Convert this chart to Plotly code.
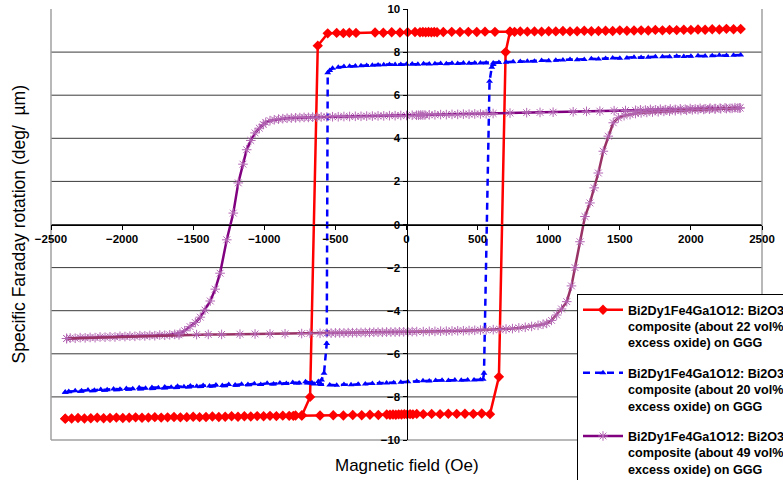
import plotly.graph_objects as go

# ---------------- data ----------------
x_ticks = [-2500, -2000, -1500, -1000, -500, 0, 500, 1000, 1500, 2000, 2500]
y_ticks = [-10, -8, -6, -4, -2, 0, 2, 4, 6, 8, 10]
grid_vals = [-8, -6, -4, -2, 0, 2, 4, 6, 8]

names = [
    "Bi2Dy1Fe4Ga1O12: Bi2O3<br>composite (about 22 vol%<br>excess oxide) on GGG",
    "Bi2Dy1Fe4Ga1O12: Bi2O3<br>composite (about 20 vol%<br>excess oxide) on GGG",
    "Bi2Dy1Fe4Ga1O12: Bi2O3<br>composite (about 49 vol%<br>excess oxide) on GGG",
]

# Red (22 vol%) - descending field
red_up_x = [2350, 2300, 2250, 2200, 2150, 2100, 2050, 2000, 1950, 1900, 1850, 1800, 1750, 1700, 1650, 1600,
            1550, 1500, 1450, 1400, 1350, 1300, 1250, 1200, 1150, 1100, 1050, 1000, 950, 900, 850, 800, 760, 728]
red_up_y = [9.07, 9.06, 9.08, 9.05, 9.06, 9.04, 9.05, 9.03, 9.04, 9.02, 9.03, 9.01, 9.03, 9.00, 9.01, 9.00,
            8.99, 9.01, 8.98, 8.99, 8.98, 8.97, 8.99, 8.97, 8.96, 8.98, 8.96, 8.97, 8.95, 8.96, 8.95, 8.96, 8.94, 8.95]
red_mid_x = [622, 552, 494, 435, 376, 318, 259, 215, 195, 175, 155, 135, 115, 95, 60, 8, -46, -104, -163, -221,
             -355, -402, -444, -491, -554]
red_mid_y = [8.94, 8.95, 8.93, 8.94, 8.93, 8.94, 8.93, 8.92, 8.93, 8.92, 8.93, 8.92, 8.93, 8.92, 8.93, 8.92,
             8.91, 8.92, 8.90, 8.91, 8.89, 8.90, 8.88, 8.89, 8.87]
red_sw_x = [-624, -678, -735]
red_sw_y = [8.3, -8.0, -8.85]
red_low_x = [-780, -825, -870, -915, -960, -1005, -1050, -1095, -1140, -1185, -1230, -1275, -1320, -1365, -1410,
             -1455, -1500, -1545, -1590, -1635, -1680, -1725, -1770, -1815, -1860, -1905, -1950, -1995, -2040,
             -2085, -2130, -2175, -2220, -2265, -2310, -2355, -2400]
red_low_y = [-8.86, -8.88, -8.87, -8.89, -8.88, -8.90, -8.89, -8.91, -8.90, -8.92, -8.90, -8.92, -8.93, -8.91,
             -8.93, -8.94, -8.92, -8.94, -8.95, -8.93, -8.95, -8.96, -8.94, -8.96, -8.97, -8.95, -8.97, -8.98,
             -8.96, -8.98, -8.99, -8.97, -8.99, -9.00, -8.98, -9.00, -9.01]
# Red - ascending field
red_asc_x = [-2400, -796, -737, -608, -515, -444, -378, -315, -257, -198, -139, -116, -95, -75, -55, -35, -15, 5,
             25, 45, 72, 118, 177, 236, 294, 353, 411, 470, 529, 587, 650, 697, 728]
red_asc_y = [-9.01, -8.88, -8.87, -8.86, -8.85, -8.86, -8.84, -8.85, -8.83, -8.84, -8.82, -8.83, -8.82, -8.83,
             -8.81, -8.82, -8.80, -8.81, -8.80, -8.81, -8.79, -8.80, -8.79, -8.80, -8.78, -8.79, -8.78, -8.79,
             -8.77, -8.80, -7.07, 8.0, 8.95]

# Blue (20 vol%) - descending field
blue_up_x = [2350, 2300, 2250, 2200, 2150, 2100, 2050, 2000, 1950, 1900, 1850, 1800, 1750, 1700, 1650, 1600,
             1550, 1500, 1450, 1400, 1350, 1300, 1250, 1200, 1150, 1100, 1050, 1000, 950, 900, 850, 800, 750,
             700, 650, 610]
blue_up_y = [7.86, 7.85, 7.84, 7.85, 7.83, 7.82, 7.83, 7.81, 7.80, 7.81, 7.79, 7.78, 7.79, 7.76, 7.75, 7.76,
             7.73, 7.72, 7.73, 7.70, 7.68, 7.69, 7.66, 7.65, 7.66, 7.63, 7.62, 7.60, 7.61, 7.58, 7.57, 7.56,
             7.55, 7.53, 7.52, 7.50]
blue_mid_x = [560, 520, 480, 440, 400, 360, 320, 280, 240, 200, 160, 120, 80, 40, 0, -40, -80, -120, -160,
              -200, -240, -280, -320, -360, -400, -440, -480, -520, -540]
blue_mid_y = [7.50, 7.49, 7.50, 7.48, 7.49, 7.47, 7.48, 7.46, 7.47, 7.46, 7.45, 7.46, 7.44, 7.45, 7.44, 7.43,
              7.42, 7.43, 7.41, 7.40, 7.39, 7.38, 7.37, 7.36, 7.34, 7.33, 7.30, 7.25, 7.15]
blue_sw_x = [-554, -561, -580, -597]
blue_sw_y = [7.04, -5.52, -6.9, -7.22]
blue_low_x = [-620, -665, -710, -755, -800, -845, -890, -935, -980, -1025, -1070, -1115, -1160, -1205, -1250,
              -1295, -1340, -1385, -1430, -1475, -1520, -1565, -1610, -1655, -1700, -1745, -1790, -1835, -1880,
              -1925, -1970, -2015, -2060, -2105, -2150, -2195, -2240, -2285, -2330, -2375, -2400]
blue_low_y = [-7.28, -7.34, -7.30, -7.36, -7.33, -7.38, -7.35, -7.40, -7.37, -7.42, -7.39, -7.43, -7.41, -7.45,
              -7.43, -7.47, -7.45, -7.49, -7.47, -7.51, -7.49, -7.53, -7.51, -7.55, -7.54, -7.57, -7.56, -7.60,
              -7.58, -7.62, -7.61, -7.64, -7.63, -7.67, -7.66, -7.69, -7.68, -7.71, -7.72, -7.75, -7.78]
# Blue - ascending field
blue_asc_x = [-2400, -700, -650, -600, -540, -491, -440, -390, -340, -290, -240, -190, -140, -90, -40, 10, 72,
              116, 160, 205, 250, 295, 340, 385, 430, 475, 520, 539, 545, 584, 600, 610]
blue_asc_y = [-7.78, -7.35, -7.40, -7.42, -7.45, -7.46, -7.43, -7.44, -7.41, -7.40, -7.38, -7.37, -7.35, -7.34,
              -7.32, -7.30, -7.27, -7.25, -7.26, -7.24, -7.23, -7.24, -7.22, -7.23, -7.21, -7.22, -7.20, -7.18,
              -6.9, 6.65, 7.3, 7.43]

# Purple (49 vol%) - descending field
pur_up_x = [2345, 2310, 2275, 2240, 2205, 2170, 2135, 2100, 2065, 2030, 1995, 1960, 1925, 1890, 1855, 1820,
            1785, 1750, 1715, 1680, 1645, 1610]
pur_up_y = [5.41, 5.42, 5.39, 5.41, 5.40, 5.38, 5.40, 5.37, 5.39, 5.36, 5.38, 5.35, 5.37, 5.34, 5.36, 5.33,
            5.35, 5.32, 5.34, 5.31, 5.32, 5.30]
pur_sparse_x = [1540, 1460, 1360, 1266, 1172, 1031, 939, 845, 728, 609]
pur_sparse_y = [5.29, 5.28, 5.26, 5.25, 5.23, 5.21, 5.20, 5.19, 5.17, 5.15]
pur_mid_x = [560, 520, 480, 440, 400, 360, 320, 280, 240, 200, 160, 130, 115, 100, 85, 70, 40, 0, -40, -80,
             -120, -160, -200, -240, -280, -320, -360, -400, -440, -480, -520, -560, -600, -631]
pur_mid_y = [5.14, 5.13, 5.13, 5.12, 5.12, 5.11, 5.11, 5.10, 5.10, 5.09, 5.09, 5.08, 5.08, 5.08, 5.07, 5.07,
             5.07, 5.06, 5.06, 5.05, 5.05, 5.04, 5.04, 5.03, 5.03, 5.02, 5.02, 5.01, 5.01, 5.00, 5.00, 4.99,
             4.99, 4.98]
pur_sw_x = [-660, -690, -720, -750, -780, -810, -840, -870, -900, -930, -960, -990, -1007, -1035, -1065, -1095,
            -1124, -1150, -1183, -1218, -1264, -1311, -1345, -1380, -1417, -1450, -1485, -1522, -1560, -1593]
pur_sw_y = [4.98, 4.97, 4.97, 4.96, 4.95, 4.94, 4.93, 4.91, 4.89, 4.86, 4.82, 4.74, 4.64, 4.47, 4.25, 3.90,
            3.47, 2.80, 1.93, 0.53, -0.71, -2.26, -3.00, -3.55, -3.97, -4.30, -4.55, -4.74, -4.93, -5.05]
pur_low_x = [-1630, -1665, -1700, -1735, -1770, -1805, -1840, -1875, -1910, -1945, -1980, -2015, -2050, -2085,
             -2120, -2155, -2190, -2225, -2260, -2295, -2330, -2365, -2390]
pur_low_y = [-5.10, -5.12, -5.14, -5.13, -5.16, -5.15, -5.17, -5.16, -5.19, -5.18, -5.20, -5.19, -5.22, -5.21,
             -5.23, -5.22, -5.25, -5.24, -5.26, -5.25, -5.28, -5.27, -5.29]
# Purple - ascending field
pa_x1 = [-2390, -1600, -1476, -1394, -1300, -1171, -1065, -960, -854, -737, -679, -608]
pa_y1 = [-5.29, -5.12, -5.11, -5.10, -5.10, -5.09, -5.08, -5.08, -5.07, -5.06, -5.05, -5.05]
pa_x2 = [-560, -530, -500, -470, -440, -410, -380, -350, -320, -290, -260, -230, -200, -170, -140, -110, -80,
         -50, -20, 10, 40, 72]
pa_y2 = [-5.04, -5.04, -5.03, -5.03, -5.03, -5.02, -5.02, -5.02, -5.01, -5.01, -5.01, -5.00, -5.00, -5.00,
         -4.99, -4.99, -4.99, -4.98, -4.98, -4.98, -4.97, -4.97]
pa_x3 = [118, 160, 200, 240, 280, 320, 360, 400, 440, 480, 520, 560, 610, 657, 700, 745, 790, 835, 880, 925,
         960, 986, 1020, 1056, 1090, 1127, 1160, 1185, 1220, 1255, 1290, 1320, 1349, 1384, 1419, 1454, 1490,
         1530, 1572]
pa_y3 = [-4.97, -4.96, -4.96, -4.95, -4.95, -4.94, -4.93, -4.93, -4.92, -4.91, -4.90, -4.89, -4.88, -4.87,
         -4.85, -4.83, -4.80, -4.77, -4.73, -4.68, -4.63, -4.59, -4.45, -4.20, -3.92, -3.58, -2.85, -2.00,
         -0.80, 0.37, 1.00, 1.70, 2.39, 3.40, 4.10, 4.72, 4.95, 5.05, 5.10]
pa_x4 = [1610, 1650, 1690, 1730, 1770, 1810, 1850, 1890, 1930, 1970, 2010, 2050, 2090, 2130, 2170, 2210, 2250,
         2290, 2330, 2345]
pa_y4 = [5.15, 5.18, 5.20, 5.22, 5.23, 5.25, 5.26, 5.28, 5.29, 5.30, 5.32, 5.33, 5.34, 5.35, 5.36, 5.37, 5.38,
         5.39, 5.40, 5.41]


def cat(*parts):
    out = []
    for p in parts:
        out.extend(p)
    return out


RED = "#FF0000"
BLUE = "#0000FF"
PURPLE = "#800080"
PLUM = "#993366"
PMARK = "#B366B3"

fig = go.Figure()

red_marker = dict(symbol="diamond", size=8, color=RED)
fig.add_trace(go.Scatter(
    x=cat(red_up_x, red_mid_x, red_sw_x, red_low_x), y=cat(red_up_y, red_mid_y, red_sw_y, red_low_y),
    mode="lines+markers", line=dict(color=RED, width=2.5), marker=red_marker,
    name=names[0], legendgroup="r"))
fig.add_trace(go.Scatter(
    x=red_asc_x, y=red_asc_y, mode="lines+markers", line=dict(color=RED, width=2.5), marker=red_marker,
    name=names[0], legendgroup="r", showlegend=False))

blue_marker = dict(symbol="triangle-up", size=6, color=BLUE)
fig.add_trace(go.Scatter(
    x=cat(blue_up_x, blue_mid_x, blue_sw_x, blue_low_x), y=cat(blue_up_y, blue_mid_y, blue_sw_y, blue_low_y),
    mode="lines+markers", line=dict(color=BLUE, width=2.5, dash="7px,5px"), marker=blue_marker,
    name=names[1], legendgroup="b"))
fig.add_trace(go.Scatter(
    x=blue_asc_x, y=blue_asc_y, mode="lines+markers", line=dict(color=BLUE, width=2.5, dash="7px,5px"),
    marker=blue_marker, name=names[1], legendgroup="b", showlegend=False))

pur_marker = dict(symbol="asterisk-open", size=8, color=PMARK, line=dict(color=PMARK, width=1))
fig.add_trace(go.Scatter(
    x=cat(pur_up_x, pur_sparse_x, pur_mid_x, pur_sw_x, pur_low_x),
    y=cat(pur_up_y, pur_sparse_y, pur_mid_y, pur_sw_y, pur_low_y),
    mode="lines+markers", line=dict(color=PURPLE, width=2.5), marker=pur_marker,
    name=names[2], legendgroup="p"))
fig.add_trace(go.Scatter(
    x=cat(pa_x1, pa_x2, pa_x3, pa_x4), y=cat(pa_y1, pa_y2, pa_y3, pa_y4),
    mode="lines+markers", line=dict(color=PLUM, width=2.5), marker=pur_marker,
    name=names[2], legendgroup="p", showlegend=False))

shapes = []
for g in grid_vals:
    shapes.append(dict(type="line", xref="paper", yref="y", x0=0, x1=1, y0=g, y1=g,
                       line=dict(color="#3a3a3a", width=1), layer="below"))
border = dict(color="#A0A0A0", width=1.5)
shapes.append(dict(type="line", xref="paper", yref="paper", x0=0, x1=0, y0=0, y1=1, line=border, layer="below"))
shapes.append(dict(type="line", xref="paper", yref="paper", x0=1, x1=1, y0=0, y1=1, line=border, layer="below"))
shapes.append(dict(type="line", xref="paper", yref="paper", x0=0, x1=1, y0=0, y1=0, line=border, layer="below"))

tickfont = dict(family="Arial, Liberation Sans, sans-serif", size=11.5, color="black", weight="bold")

fig.update_layout(
    width=783, height=480,
    margin=dict(l=51, r=21, t=9, b=40, autoexpand=False),
    paper_bgcolor="white", plot_bgcolor="white",
    font=dict(family="Arial, Liberation Sans, sans-serif", color="black"),
    showlegend=True,
    legend=dict(x=0.7398, y=0.3387, xanchor="left", yanchor="top", bordercolor="#000000", borderwidth=1,
                bgcolor="white", font=dict(size=12.6, weight="bold", color="black"), valign="top",
                traceorder="grouped", tracegroupgap=11, itemwidth=40),
    xaxis=dict(range=[-2500, 2500], tickvals=x_ticks, anchor="free", position=0.5, showline=True,
               linecolor="black", linewidth=1, ticks="outside", ticklen=4, tickcolor="black",
               showgrid=False, zeroline=False, tickfont=tickfont),
    yaxis=dict(range=[-10, 10], tickvals=y_ticks, anchor="free", position=0.5, showline=True,
               linecolor="black", linewidth=1, ticks="outside", ticklen=4, tickcolor="black",
               showgrid=False, zeroline=False, tickfont=tickfont),
    shapes=shapes,
    annotations=[
        dict(text="Magnetic field (Oe)", xref="paper", yref="paper", x=0.5, y=-0.0603, xanchor="center",
             yanchor="middle", showarrow=False, font=dict(size=17, color="black")),
        dict(text="Specific Faraday rotation (deg/  µm)", xref="paper", yref="paper", x=-0.0464, y=0.5,
             xanchor="center", yanchor="middle", textangle=-90, showarrow=False,
             font=dict(size=17.5, color="black")),
    ],
)

fig.write_html("out.html")
